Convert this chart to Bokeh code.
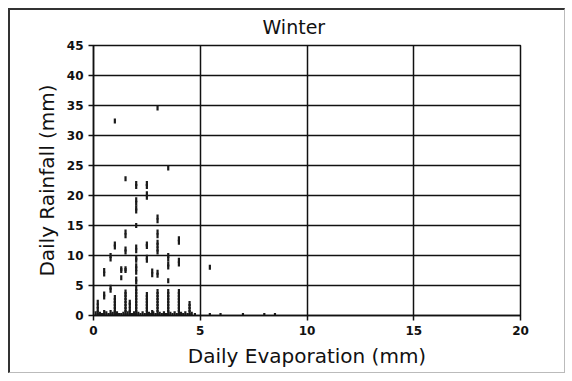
from bokeh.plotting import figure
from bokeh.models import FixedTicker, Range1d
from bokeh.embed import file_html
from bokeh.resources import INLINE
import math

# Daily evaporation (mm) and daily rainfall (mm), column by column
evap = (
    [0.2] * 5 + [0.5] * 6 + [0.8] * 6 + [1.0] * 10 + [1.3] * 4 +
    [1.5] * 16 + [1.7] * 5 + [2.0] * 26 + [2.5] * 16 + [2.75] * 4 +
    [3.0] * 20 + [3.5] * 15 + [4.0] * 13 + [4.5] * 5
)
rain = (
    [0, 0.4, 1.0, 1.6, 2.2] +
    [0, 0.5, 3.1, 3.6, 6.9, 7.5] +
    [0, 0.5, 4.2, 4.7, 9.4, 10.0] +
    [0, 0.5, 1.0, 1.5, 2.0, 2.5, 3.0, 11.4, 11.9, 32.4] +
    [0, 6.3, 7.5, 7.8] +
    [0, 0.5, 1.0, 1.5, 2.0, 2.5, 3.0, 3.5, 3.9, 7.5, 7.8, 10.6, 11.1, 13.3, 13.9, 22.8] +
    [0, 0.5, 1.0, 1.7, 2.2] +
    [0, 0.5, 1.0, 1.5, 2.0, 2.5, 3.0, 3.5, 4.0, 4.5, 5.6, 6.1, 7.2, 7.8, 8.3, 9.2,
     9.6, 10.8, 11.4, 15.0, 17.4, 17.9, 18.7, 19.3, 21.5, 22.0] +
    [0, 0.5, 1.0, 1.5, 2.0, 2.5, 3.0, 3.5, 9.2, 9.7, 11.5, 11.9, 19.7, 20.3, 21.5, 22.0] +
    [0, 0.5, 6.8, 7.4] +
    [0, 0.5, 1.0, 1.5, 2.0, 2.5, 3.0, 3.5, 4.0, 6.7, 7.2, 10.6, 11.1, 11.7, 12.2, 13.3,
     13.9, 15.8, 16.4, 34.6] +
    [0, 0.5, 1.0, 1.5, 2.0, 2.5, 3.0, 3.5, 4.0, 5.8, 8.1, 8.6, 9.4, 10.0, 24.6] +
    [0, 0.5, 1.0, 1.5, 2.0, 2.5, 3.0, 3.5, 4.0, 8.6, 9.2, 12.2, 12.8] +
    [0, 0.5, 1.0, 1.5, 2.0]
)
# Dry days (rain near zero) spread along the bottom
dry_evap = [0.1, 0.3, 0.4, 0.6, 0.7, 0.9, 1.1, 1.2, 1.4, 1.6, 1.8, 1.9, 2.1, 2.2,
            2.3, 2.4, 2.6, 2.7, 2.8, 2.9, 3.1, 3.2, 3.3, 3.4, 3.6, 3.7, 3.8, 3.9,
            4.1, 4.2, 4.3, 4.4, 4.6, 4.75, 5.45, 5.95, 7.0, 8.0, 8.5]
dry_rain = [0.3, 0.2, 0, 0.3, 0, 0.2, 0.3, 0, 0.2, 0.3, 0, 0.3, 0.2, 0,
            0.3, 0, 0.2, 0, 0.3, 0, 0.2, 0, 0.3, 0, 0.2, 0, 0.3, 0,
            0.2, 0, 0.3, 0, 0.2, 0, 0, 0, 0, 0, 0]
# Outlier wet day beyond 5 mm evaporation
extra_evap = [5.45]
extra_rain = [8.05]

title_text = "Winter"
x_ticks = [0, 5, 10, 15, 20]
y_ticks = [0, 5, 10, 15, 20, 25, 30, 35, 40, 45]

p = figure(width=557, height=365, output_backend="svg", toolbar_location=None,
           x_range=Range1d(0, 20), y_range=Range1d(0, 45), title=title_text,
           min_border_left=83, min_border_right=47, min_border_top=34, min_border_bottom=60)
p.styles = {"margin-left": "8px", "margin-top": "8px",
            "border-top": "2px solid #333", "border-left": "2px solid #333",
            "border-right": "1px solid #bbb", "border-bottom": "1px solid #bbb"}

p.title.align = "left"
p.title.offset = 169
p.title.vertical_align = "top"
p.title.text_font = "DejaVu Sans"
p.title.text_font_size = "19px"
p.title.text_font_style = "normal"
p.title.text_color = "#111"
p.title.standoff = 11

all_x = evap + dry_evap + extra_evap
all_y = rain + dry_rain + extra_rain
p.scatter(all_x, all_y, marker="dash", angle=math.pi / 2, size=5,
          line_color="#1a1a1a", line_width=2.2)

p.xaxis.ticker = FixedTicker(ticks=x_ticks)
p.yaxis.ticker = FixedTicker(ticks=y_ticks)
p.xaxis.axis_label = "Daily Evaporation (mm)"
p.yaxis.axis_label = "Daily Rainfall (mm)"
for ax in (p.xaxis, p.yaxis):
    ax.axis_label_text_font = "DejaVu Sans"
    ax.axis_label_text_font_size = "20px"
    ax.axis_label_text_font_style = "normal"
    ax.axis_label_text_color = "#111"
    ax.major_label_text_font = "DejaVu Sans"
    ax.major_label_text_font_size = "12px"
    ax.major_label_text_font_style = "bold"
    ax.major_label_text_color = "#111"
    ax.minor_tick_line_color = None
    ax.major_tick_in = 0
    ax.major_tick_out = 5
    ax.major_tick_line_color = "#111"
    ax.major_tick_line_width = 1.5
    ax.axis_line_color = "#111"
    ax.axis_line_width = 1.5
p.xaxis.axis_label_standoff = 6
p.yaxis.axis_label_standoff = 5

p.xgrid.grid_line_color = "#111"
p.ygrid.grid_line_color = "#111"
p.xgrid.grid_line_width = 1.5
p.ygrid.grid_line_width = 1.5
p.xgrid.grid_line_alpha = 1
p.ygrid.grid_line_alpha = 1
p.outline_line_color = "#111"
p.outline_line_width = 1.5
p.outline_line_alpha = 1

open("out.html", "w").write(file_html(p, INLINE))
